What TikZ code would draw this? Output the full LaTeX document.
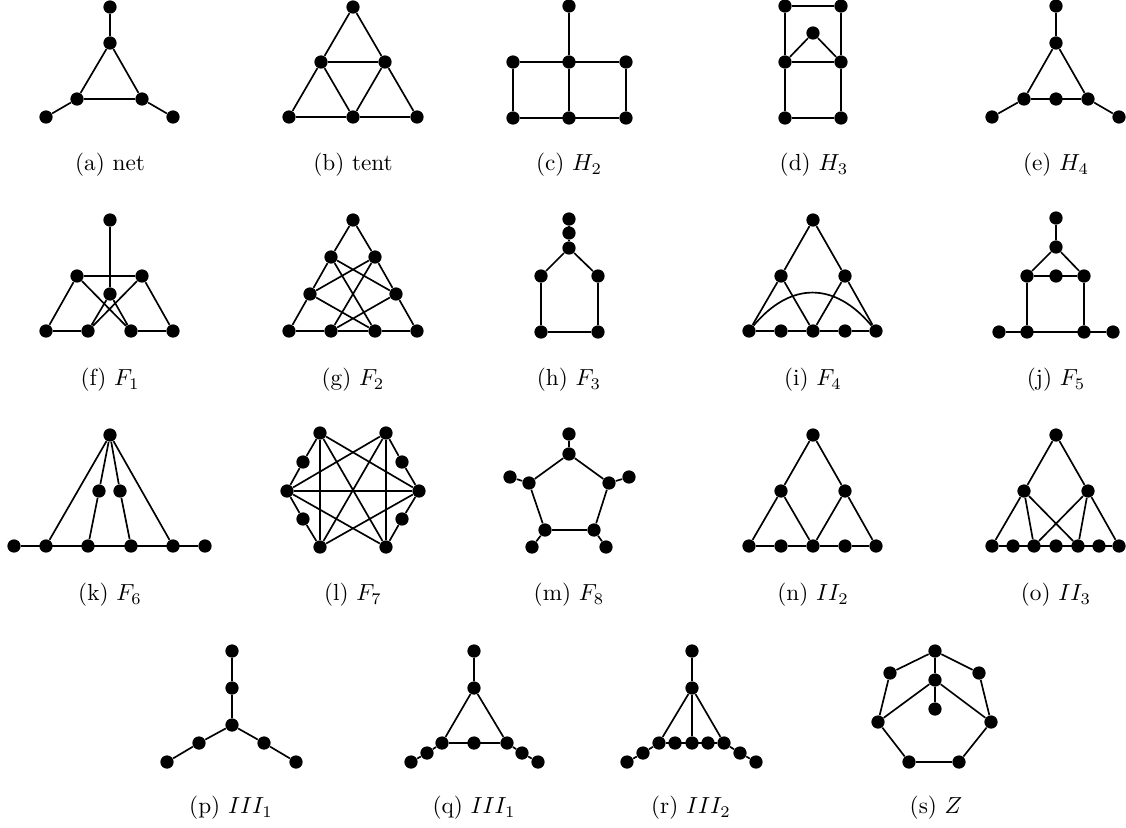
\documentclass[tikz,border=0pt]{standalone}
\usepackage{amsmath,amssymb}
\usepackage{tikz}

\begin{document}
\begin{tikzpicture}[x=0.43pt, y=-0.43pt,
    vtx/.style={circle, fill=black, draw=none, inner sep=0pt, minimum size=5.7pt},
    gline/.style={draw=black, line width=0.72pt},
    capnode/.style={inner sep=1pt, font=\normalsize}
]
    \useasboundingbox (0,0) rectangle (1126,827);

    % Row 1: (a) net
    \node (a1) [vtx] at (110,7) {};   \node (a2) [vtx] at (110,43) {};
    \node (a3) [vtx] at (77,99) {};   \node (a4) [vtx] at (142,99) {};
    \node (a5) [vtx] at (46,117) {};  \node (a6) [vtx] at (173,117) {};
    \draw [gline] (a1) -- (a2) -- (a3) -- (a4) -- (a2);
    \draw [gline] (a3) -- (a5);
    \draw [gline] (a4) -- (a6);
    \node (capa) [capnode] at (110,165) {(a) net};

    % (b) tent
    \node (b1) [vtx] at (353,7) {};
    \node (b2) [vtx] at (321,62) {};  \node (b3) [vtx] at (385,62) {};
    \node (b4) [vtx] at (289,117) {}; \node (b5) [vtx] at (353,117) {}; \node (b6) [vtx] at (417,117) {};
    \draw [gline] (b1) -- (b2) -- (b4) -- (b5) -- (b6) -- (b3) -- (b1);
    \draw [gline] (b2) -- (b3) -- (b5) -- (b2);
    \node (capb) [capnode] at (353,165) {(b) tent};

    % (c) H_2
    \node (c1) [vtx] at (569,6) {};
    \node (c2) [vtx] at (513,62) {};  \node (c3) [vtx] at (569,62) {};  \node (c4) [vtx] at (626,62) {};
    \node (c5) [vtx] at (513,118) {}; \node (c6) [vtx] at (569,118) {}; \node (c7) [vtx] at (626,118) {};
    \draw [gline] (c1) -- (c3) -- (c6);
    \draw [gline] (c2) -- (c4) -- (c7) -- (c5) -- (c2);
    \node (capc) [capnode] at (569,165) {(c) $H_2$};

    % (d) H_3
    \node (d1) [vtx] at (785,6) {};   \node (d2) [vtx] at (841,6) {};
    \node (d3) [vtx] at (813,33) {};
    \node (d4) [vtx] at (785,62) {};  \node (d5) [vtx] at (841,62) {};
    \node (d6) [vtx] at (785,118) {}; \node (d7) [vtx] at (841,118) {};
    \draw [gline] (d1) -- (d2) -- (d5) -- (d7) -- (d6) -- (d4) -- (d1);
    \draw [gline] (d4) -- (d5) -- (d3) -- (d4);
    \node (capd) [capnode] at (814,165) {(d) $H_3$};

    % (e) H_4
    \node (e1) [vtx] at (1056,6) {};  \node (e2) [vtx] at (1056,43) {};
    \node (e3) [vtx] at (1024,99) {}; \node (e4) [vtx] at (1056,99) {}; \node (e5) [vtx] at (1088,99) {};
    \node (e6) [vtx] at (992,117) {}; \node (e7) [vtx] at (1119,117) {};
    \draw [gline] (e1) -- (e2) -- (e3) -- (e5) -- (e2);
    \draw [gline] (e3) -- (e6);
    \draw [gline] (e5) -- (e7);
    \node (cape) [capnode] at (1056,165) {(e) $H_4$};

    % Row 2: (f) F_1
    \node (f1) [vtx] at (110,220) {};
    \node (f2) [vtx] at (77,276) {};  \node (f3) [vtx] at (142,276) {};
    \node (f4) [vtx] at (110,294) {};
    \node (f5) [vtx] at (46,331) {};  \node (f6) [vtx] at (88,331) {};
    \node (f7) [vtx] at (131,331) {}; \node (f8) [vtx] at (173,331) {};
    \draw [gline] (f1) -- (f4);
    \draw [gline] (f6) -- (f5) -- (f2) -- (f3) -- (f8) -- (f7);
    \draw [gline] (f2) -- (f7) -- (f4) -- (f6) -- (f3);
    \node (capf) [capnode] at (110,380) {(f) $F_1$};

    % (g) F_2
    \node (g1) [vtx] at (353,220) {};
    \node (g2) [vtx] at (331,257) {}; \node (g9) [vtx] at (375,257) {};
    \node (g3) [vtx] at (310,294) {}; \node (g8) [vtx] at (396,294) {};
    \node (g4) [vtx] at (289,331) {}; \node (g5) [vtx] at (331,331) {};
    \node (g6) [vtx] at (375,331) {}; \node (g7) [vtx] at (417,331) {};
    \draw [gline] (g1) -- (g2) -- (g3) -- (g4) -- (g5) -- (g6) -- (g7) -- (g8) -- (g9) -- (g1);
    \draw [gline] (g2) -- (g6) -- (g3) -- (g9) -- (g5) -- (g8) -- (g2);
    \node (capg) [capnode] at (353,380) {(g) $F_2$};

    % (h) F_3
    \node (h1) [vtx] at (569,219) {}; \node (h2) [vtx] at (569,233) {}; \node (h3) [vtx] at (569,248) {};
    \node (h4) [vtx] at (541,276) {}; \node (h5) [vtx] at (598,276) {};
    \node (h6) [vtx] at (541,332) {}; \node (h7) [vtx] at (598,332) {};
    \draw [gline] (h1) -- (h2) -- (h3);
    \draw [gline] (h3) -- (h4) -- (h6) -- (h7) -- (h5) -- (h3);
    \node (caph) [capnode] at (569,380) {(h) $F_3$};

    % (i) F_4
    \node (i1) [vtx] at (813,220) {};
    \node (i2) [vtx] at (781,276) {}; \node (i3) [vtx] at (845,276) {};
    \node (i4) [vtx] at (749,331) {}; \node (i5) [vtx] at (781,331) {}; \node (i6) [vtx] at (813,331) {};
    \node (i7) [vtx] at (845,331) {}; \node (i8) [vtx] at (876,331) {};
    \draw [gline] (i1) -- (i2) -- (i4) -- (i5) -- (i6) -- (i7) -- (i8) -- (i3) -- (i1);
    \draw [gline] (i2) -- (i6) -- (i3);
    \draw [gline] (i4) to[bend left=50, looseness=1.25] (i8);
    \node (capi) [capnode] at (813,380) {(i) $F_4$};

    % (j) F_5
    \node (j1) [vtx] at (1056,218) {}; \node (j2) [vtx] at (1056,247) {};
    \node (j3) [vtx] at (1027,276) {}; \node (j4) [vtx] at (1056,276) {}; \node (j5) [vtx] at (1084,276) {};
    \node (j6) [vtx] at (999,332) {};  \node (j7) [vtx] at (1027,332) {};
    \node (j8) [vtx] at (1084,332) {}; \node (j9) [vtx] at (1113,332) {};
    \draw [gline] (j1) -- (j2) -- (j3) -- (j5) -- (j2);
    \draw [gline] (j3) -- (j7);
    \draw [gline] (j5) -- (j8);
    \draw [gline] (j6) -- (j9);
    \node (capj) [capnode] at (1056,380) {(j) $F_5$};

    % Row 3: (k) F_6
    \node (k1) [vtx] at (110,435) {};
    \node (k2) [vtx] at (99,491) {};  \node (k3) [vtx] at (120,491) {};
    \node (k4) [vtx] at (14,546) {};  \node (k5) [vtx] at (46,546) {};  \node (k6) [vtx] at (88,546) {};
    \node (k7) [vtx] at (131,546) {}; \node (k8) [vtx] at (173,546) {}; \node (k9) [vtx] at (205,546) {};
    \draw [gline] (k5) -- (k1) -- (k8);
    \draw [gline] (k1) -- (k2) -- (k6);
    \draw [gline] (k1) -- (k3) -- (k7);
    \draw [gline] (k4) -- (k9);
    \node (capk) [capnode] at (110,595) {(k) $F_6$};

    % (l) F_7
    \node (l1) [vtx] at (320,433) {}; \node (l2) [vtx] at (303,462) {}; \node (l3) [vtx] at (287,491) {};
    \node (l4) [vtx] at (303,519) {}; \node (l5) [vtx] at (320,547) {};
    \node (l6) [vtx] at (386,433) {}; \node (l7) [vtx] at (402,462) {}; \node (l8) [vtx] at (419,491) {};
    \node (l9) [vtx] at (402,519) {}; \node (l10) [vtx] at (386,547) {};
    \draw [gline] (l1) -- (l2) -- (l3) -- (l4) -- (l5);
    \draw [gline] (l6) -- (l7) -- (l8) -- (l9) -- (l10);
    \draw [gline] (l1) -- (l5) -- (l6) -- (l10) -- (l1) -- (l8) -- (l5);
    \draw [gline] (l10) -- (l3) -- (l6);
    \draw [gline] (l3) -- (l8);
    \node (capl) [capnode] at (353,595) {(l) $F_7$};

    % (m) F_8
    \node (m1) [vtx] at (569,454) {}; \node (m2) [vtx] at (609,483) {}; \node (m3) [vtx] at (594,530) {};
    \node (m4) [vtx] at (545,530) {}; \node (m5) [vtx] at (529,483) {};
    \node (m6) [vtx] at (569,434) {}; \node (m7) [vtx] at (629,477) {}; \node (m8) [vtx] at (606,547) {};
    \node (m9) [vtx] at (532,547) {}; \node (m10) [vtx] at (510,477) {};
    \draw [gline] (m1) -- (m2) -- (m3) -- (m4) -- (m5) -- (m1);
    \draw [gline] (m1) -- (m6);
    \draw [gline] (m2) -- (m7);
    \draw [gline] (m3) -- (m8);
    \draw [gline] (m4) -- (m9);
    \draw [gline] (m5) -- (m10);
    \node (capm) [capnode] at (569,595) {(m) $F_8$};

    % (n) II_2
    \node (n1) [vtx] at (813,435) {};
    \node (n2) [vtx] at (781,491) {}; \node (n3) [vtx] at (845,491) {};
    \node (n4) [vtx] at (749,546) {}; \node (n5) [vtx] at (781,546) {}; \node (n6) [vtx] at (813,546) {};
    \node (n7) [vtx] at (845,546) {}; \node (n8) [vtx] at (876,546) {};
    \draw [gline] (n1) -- (n2) -- (n4) -- (n5) -- (n6) -- (n7) -- (n8) -- (n3) -- (n1);
    \draw [gline] (n2) -- (n6) -- (n3);
    \node (capn) [capnode] at (813,595) {(n) $II_2$};

    % (o) II_3
    \node (o1) [vtx] at (1056,435) {};
    \node (o2) [vtx] at (1024,491) {}; \node (o3) [vtx] at (1088,491) {};
    \node (o4) [vtx] at (992,546) {};  \node (o5) [vtx] at (1013,546) {}; \node (o6) [vtx] at (1034,546) {};
    \node (o7) [vtx] at (1056,546) {}; \node (o8) [vtx] at (1078,546) {}; \node (o9) [vtx] at (1099,546) {};
    \node (o10) [vtx] at (1119,546) {};
    \draw [gline] (o4) -- (o2) -- (o1) -- (o3) -- (o10);
    \draw [gline] (o6) -- (o2) -- (o8) -- (o3) -- (o6);
    \draw [gline] (o4) -- (o10);
    \node (capo) [capnode] at (1056,595) {(o) $II_3$};

    % Row 4: (p) III_1
    \node (p1) [vtx] at (232,651) {}; \node (p2) [vtx] at (232,688) {}; \node (p3) [vtx] at (232,725) {};
    \node (p4) [vtx] at (199,743) {}; \node (p5) [vtx] at (167,762) {};
    \node (p6) [vtx] at (264,743) {}; \node (p7) [vtx] at (296,762) {};
    \draw [gline] (p1) -- (p2) -- (p3) -- (p4) -- (p5);
    \draw [gline] (p3) -- (p6) -- (p7);
    \node (capp) [capnode] at (231,808) {(p) $III_1$};

    % (q) III_1
    \node (q1) [vtx] at (474,651) {}; \node (q2) [vtx] at (474,688) {};
    \node (q3) [vtx] at (442,743) {}; \node (q4) [vtx] at (474,743) {}; \node (q5) [vtx] at (507,743) {};
    \node (q6) [vtx] at (427,753) {}; \node (q7) [vtx] at (411,762) {};
    \node (q8) [vtx] at (522,753) {}; \node (q9) [vtx] at (538,762) {};
    \draw [gline] (q1) -- (q2) -- (q3) -- (q5) -- (q2);
    \draw [gline] (q3) -- (q6) -- (q7);
    \draw [gline] (q5) -- (q8) -- (q9);
    \node (capq) [capnode] at (474,808) {(q) $III_1$};

    % (r) III_2
    \node (r1) [vtx] at (692,651) {}; \node (r2) [vtx] at (692,688) {};
    \node (r3) [vtx] at (627,762) {}; \node (r4) [vtx] at (643,753) {}; \node (r5) [vtx] at (659,743) {};
    \node (r6) [vtx] at (675,743) {}; \node (r7) [vtx] at (692,743) {}; \node (r8) [vtx] at (708,743) {};
    \node (r9) [vtx] at (724,743) {}; \node (r10) [vtx] at (740,753) {}; \node (r11) [vtx] at (756,762) {};
    \draw [gline] (r1) -- (r2) -- (r7);
    \draw [gline] (r5) -- (r2) -- (r9);
    \draw [gline] (r3) -- (r4) -- (r5) -- (r9) -- (r10) -- (r11);
    \node (capr) [capnode] at (691,808) {(r) $III_2$};

    % (s) Z
    \node (s1) [vtx] at (935,651) {}; \node (s2) [vtx] at (935,680) {}; \node (s3) [vtx] at (935,709) {};
    \node (s4) [vtx] at (890,673) {}; \node (s5) [vtx] at (979,673) {};
    \node (s6) [vtx] at (878,722) {}; \node (s7) [vtx] at (991,722) {};
    \node (s8) [vtx] at (909,762) {}; \node (s9) [vtx] at (959,762) {};
    \draw [gline] (s1) -- (s4) -- (s6) -- (s8) -- (s9) -- (s7) -- (s5) -- (s1);
    \draw [gline] (s1) -- (s2) -- (s3);
    \draw [gline] (s6) -- (s2) -- (s7);
    \node (caps) [capnode] at (936,808) {(s) $Z$};
\end{tikzpicture}
\end{document}
